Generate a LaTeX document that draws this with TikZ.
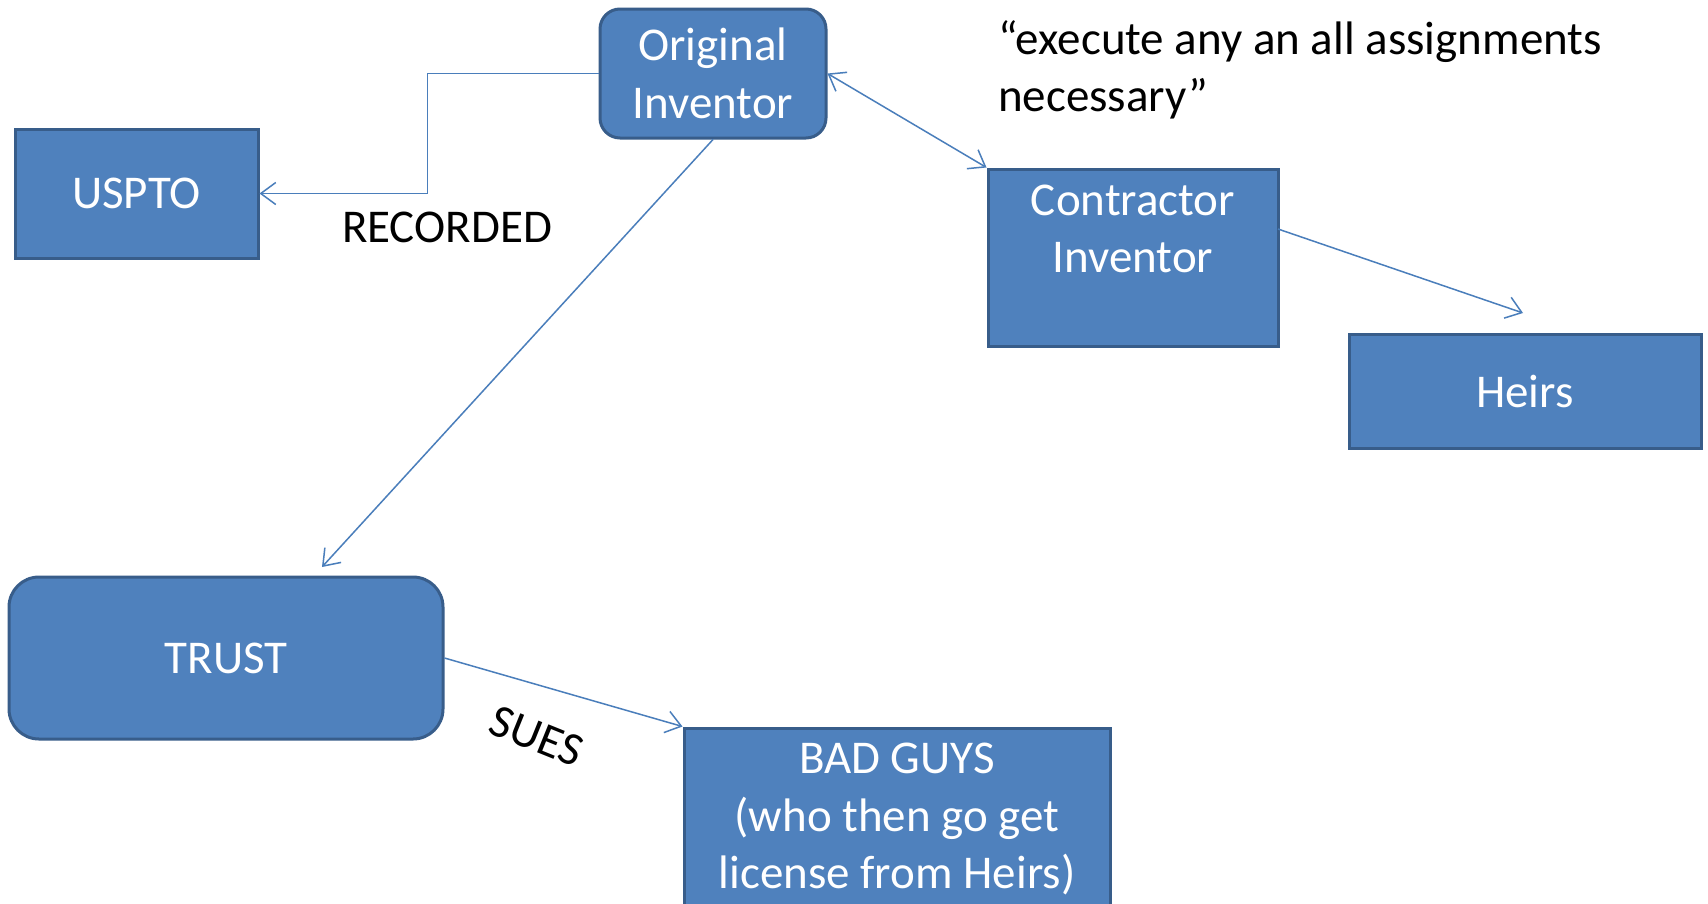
\documentclass[tikz,border=0pt]{standalone}
\usepackage{fontspec}
\setmainfont{Carlito}
\usetikzlibrary{arrows.meta}
\definecolor{boxfill}{HTML}{4F81BD}
\definecolor{boxline}{HTML}{385D8A}
\definecolor{connc}{HTML}{4A7EBB}
\begin{document}
\begin{tikzpicture}[x=1pt,y=-1pt,
  box/.style={draw=boxline, fill=boxfill, line width=3pt, text=white, align=center,
    font=\fontsize{47}{57.5}\selectfont, inner sep=0pt},
  lbl/.style={text=black, font=\fontsize{47}{57.5}\selectfont, inner sep=0pt},
  conn/.style={draw=connc, line width=1.5pt, -{Straight Barb[length=15pt,width=22pt]}},
  dconn/.style={draw=connc, line width=1.5pt, {Straight Barb[length=15pt,width=22pt]}-{Straight Barb[length=15pt,width=22pt]}},
]
\clip (0,0) rectangle (1708,903);
\fill[white] (0,0) rectangle (1708,903);

\node[box, rounded corners=20pt, minimum width=226pt, minimum height=129pt] (orig) at (713,73.5) {Original\\Inventor};
\node[box, minimum width=243pt, minimum height=129pt] (usp) at (136.5,193.5) {USPTO};
\node[box, minimum width=290pt, minimum height=177pt] (contr) at (1133,257.5) {Contractor\\Inventor\\\mbox{}};
\node[box, minimum width=352pt, minimum height=114pt] (heirs) at (1525,391) {Heirs};
\node[box, rounded corners=30pt, minimum width=434pt, minimum height=162pt] (trust) at (226,658) {TRUST};
\node[box, minimum width=426pt, minimum height=182pt] (bad) at (897,819) {BAD GUYS\\(who then go get\\license from Heirs)};

\node[lbl] (rec) at (447,227) {RECORDED};
\node[lbl, rotate=-22] (sues) at (537,736) {SUES};
\node[lbl, align=left, anchor=west] (quote) at (998,70) {“execute any an all assignments\\necessary”};

\coordinate (trustin) at (322,567);
\coordinate (heirsin) at (1523,313);
\coordinate (controut) at (1278,229);

\draw[conn] (orig.west) -- ++(-171,0) |- (usp.east);
\draw[conn] (orig.south) -- (trustin);
\draw[dconn] (orig.east) -- (contr.north west);
\draw[conn] (controut) -- (heirsin);
\draw[conn] (trust.east) -- (bad.north west);
\end{tikzpicture}
\end{document}
